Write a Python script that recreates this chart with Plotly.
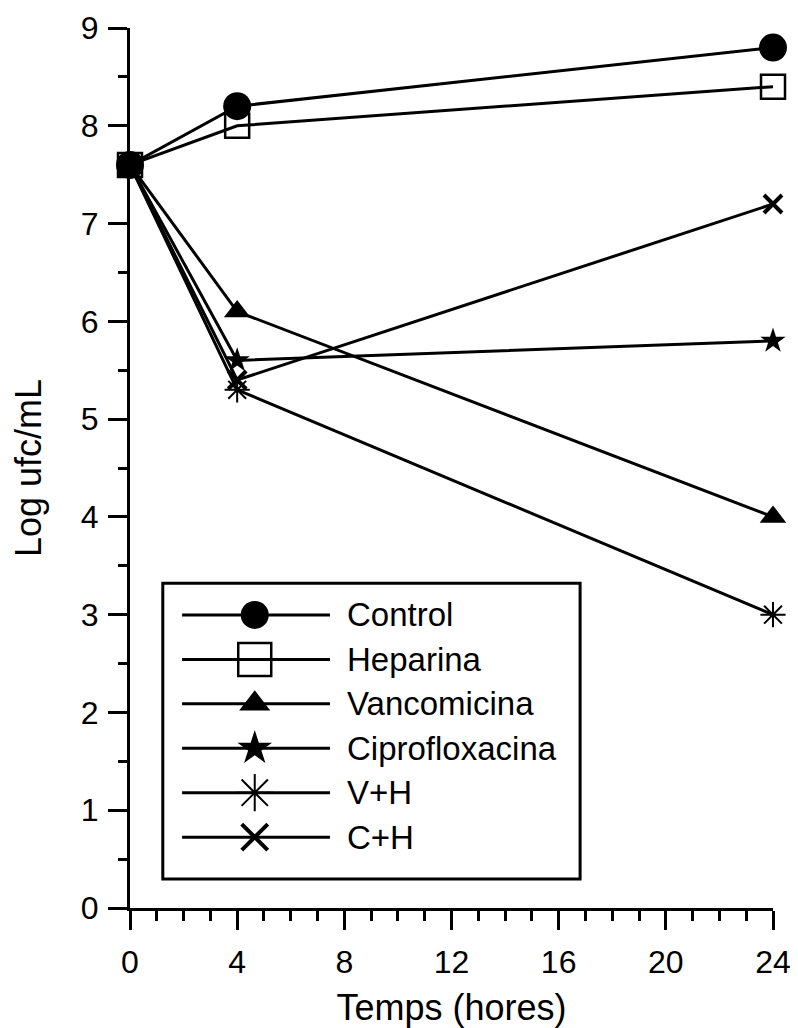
import plotly.graph_objects as go

# ---------------- data ----------------
hours = [0, 4, 24]
series_names = ["Control", "Heparina", "Vancomicina", "Ciprofloxacina", "V+H", "C+H"]
control = [7.6, 8.2, 8.8]
heparina = [7.6, 8.0, 8.4]
vancomicina = [7.6, 6.1, 4.0]
ciprofloxacina = [7.6, 5.6, 5.8]
v_h = [7.6, 5.3, 3.0]
c_h = [7.6, 5.4, 7.2]
x_tick_vals = [0, 4, 8, 12, 16, 20, 24]
y_tick_vals = [0, 1, 2, 3, 4, 5, 6, 7, 8, 9]
x_title = "Temps (hores)"
y_title = "Log ufc/mL"

series_values = [control, heparina, vancomicina, ciprofloxacina, v_h, c_h]

# ---------------- styles ----------------
FONT = "Arial, 'Liberation Sans', sans-serif"
symbols = ["circle", "square-open", "triangle-up", "star", "asterisk-open", "x-thin-open"]
data_sizes = [28, 24, 23, 19, 21, 18]
legend_sizes = [28, 33, 27, 26, 31, 26]
marker_line_w = [0, 2.5, 0, 0, 2, 4]

fig = go.Figure()

for name, vals, sym, sz, lw in zip(series_names, series_values, symbols, data_sizes, marker_line_w):
    fig.add_trace(go.Scatter(
        x=hours, y=vals, name=name, mode="lines+markers",
        line=dict(color="black", width=3),
        marker=dict(symbol=sym, size=sz, color="black", opacity=1,
                    line=dict(color="black", width=lw)),
        cliponaxis=False, showlegend=False,
    ))

# ---------------- manual legend (overlay axes in plot fraction) ----------------
leg_x0, leg_xm, leg_x1, leg_text_x = 0.081, 0.194, 0.311, 0.334
leg_top, leg_step = 0.333, 0.0505
for i, (name, sym, sz, lw) in enumerate(zip(series_names, symbols, legend_sizes, marker_line_w)):
    ry = leg_top - i * leg_step
    fig.add_trace(go.Scatter(
        x=[leg_x0, leg_xm, leg_x1], y=[ry, ry, ry], mode="lines+markers",
        xaxis="x2", yaxis="y2",
        line=dict(color="black", width=3),
        marker=dict(symbol=sym, size=[0, sz, 0], color="black", opacity=1,
                    line=dict(color="black", width=lw)),
        cliponaxis=False, showlegend=False, hoverinfo="skip",
    ))
    fig.add_annotation(x=leg_text_x, y=ry, xref="paper", yref="paper",
                       text=name, showarrow=False, xanchor="left", yanchor="middle",
                       font=dict(family=FONT, size=33, color="black"))

fig.add_shape(type="rect", xref="paper", yref="paper",
              x0=0.051, x1=0.700, y0=0.033, y1=0.369,
              line=dict(color="black", width=3), fillcolor="rgba(0,0,0,0)", layer="below")

axis_common = dict(
    showline=True, linecolor="black", linewidth=3, mirror=False,
    showgrid=False, zeroline=False, automargin=False,
    ticks="outside", ticklen=19, tickwidth=3, tickcolor="black",
    tickfont=dict(family=FONT, size=32, color="black"),
)

# the page body adds an 8px offset, so the figure is 8px smaller and shifted
fig.update_layout(
    width=790, height=1020,
    margin=dict(l=122, r=25, t=20, b=120),
    paper_bgcolor="white", plot_bgcolor="white",
    font=dict(family=FONT, color="black"),
    showlegend=False,
    xaxis=dict(range=[0, 24], tickmode="array", tickvals=x_tick_vals,
               ticklabelstandoff=5,
               minor=dict(dtick=1, tick0=0, ticks="outside", ticklen=10, tickwidth=3,
                          tickcolor="black", showgrid=False),
               title=dict(text=x_title, font=dict(family=FONT, size=36, color="black"), standoff=20),
               **axis_common),
    yaxis=dict(range=[0, 9], tickmode="array", tickvals=y_tick_vals,
               ticklabelstandoff=3,
               minor=dict(dtick=0.5, tick0=0, ticks="outside", ticklen=9, tickwidth=3,
                          tickcolor="black", showgrid=False),
               title=dict(text=y_title, font=dict(family=FONT, size=36, color="black"), standoff=34),
               **axis_common),
    xaxis2=dict(overlaying="x", range=[0, 1], visible=False, anchor="y2"),
    yaxis2=dict(overlaying="y", range=[0, 1], visible=False, anchor="x2"),
)

fig.write_html("out.html")
